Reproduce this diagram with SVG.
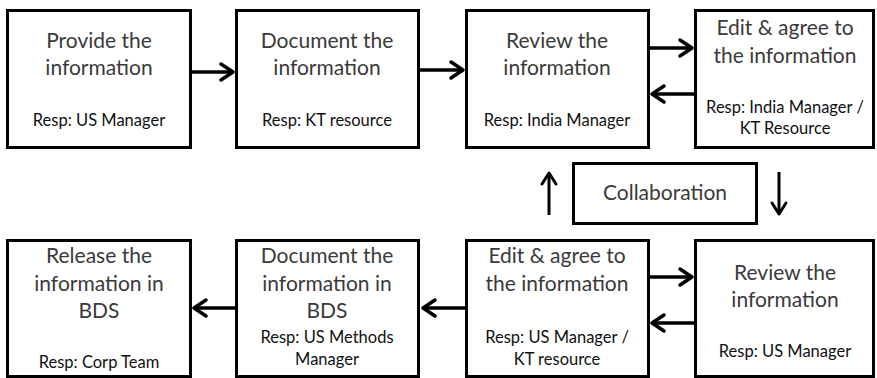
<svg xmlns="http://www.w3.org/2000/svg" width="877" height="378" viewBox="0 0 877 378">
  <defs>
    <style>
      .box { fill: #ffffff; stroke: #000000; stroke-width: 3; }
      .title { font-family: Lato, "Open Sans", "Liberation Sans", sans-serif; font-size: 21px; fill: #3a3a3a; text-anchor: middle; }
      .resp { font-family: Lato, "Open Sans", "Liberation Sans", sans-serif; font-size: 16.5px; fill: #111111; text-anchor: middle; }
      .link { stroke: #000000; stroke-width: 3.5; fill: none; }
      .head { stroke: #000000; stroke-width: 3.5; fill: none; stroke-linecap: round; stroke-linejoin: round; }
      .thin { stroke: #000000; stroke-width: 3; fill: none; }
      .thinhead { stroke: #000000; stroke-width: 3; fill: none; stroke-linecap: round; stroke-linejoin: round; }
    </style>
  </defs>
  <rect width="877" height="378" fill="#ffffff"/>

  <!-- top row -->
  <g id="provide">
    <rect class="box" x="7.5" y="10.5" width="183" height="137"/>
    <text class="title" x="99" y="48">Provide the</text>
    <text class="title" x="99" y="75">information</text>
    <text class="resp" x="99" y="126">Resp: US Manager</text>
  </g>
  <g id="document-kt">
    <rect class="box" x="236.5" y="10.5" width="182" height="137"/>
    <text class="title" x="327" y="48">Document the</text>
    <text class="title" x="327" y="75">information</text>
    <text class="resp" x="327" y="126">Resp:  KT resource</text>
  </g>
  <g id="review-india">
    <rect class="box" x="466.5" y="10.5" width="182" height="137"/>
    <text class="title" x="557" y="48">Review the</text>
    <text class="title" x="557" y="75">information</text>
    <text class="resp" x="557" y="126">Resp: India Manager</text>
  </g>
  <g id="edit-india">
    <rect class="box" x="695.5" y="10.5" width="178" height="137"/>
    <text class="title" x="785" y="35">Edit &amp; agree to</text>
    <text class="title" x="785" y="63">the information</text>
    <text class="resp" x="785" y="113">Resp: India Manager /</text>
    <text class="resp" x="785" y="134">KT Resource</text>
  </g>

  <!-- middle -->
  <g id="collaboration">
    <rect class="box" x="573.5" y="163.5" width="183" height="60" stroke-width="2.5"/>
    <text class="title" x="665" y="200" font-size="22">Collaboration</text>
  </g>

  <!-- bottom row -->
  <g id="release">
    <rect class="box" x="7.5" y="240.5" width="183" height="136"/>
    <text class="title" x="99" y="263">Release the</text>
    <text class="title" x="99" y="291">information in</text>
    <text class="title" x="99" y="318">BDS</text>
    <text class="resp" x="99" y="368">Resp: Corp Team</text>
  </g>
  <g id="document-bds">
    <rect class="box" x="236.5" y="240.5" width="182" height="136"/>
    <text class="title" x="327" y="263">Document the</text>
    <text class="title" x="327" y="291">information in</text>
    <text class="title" x="327" y="318">BDS</text>
    <text class="resp" x="327" y="343">Resp: US Methods</text>
    <text class="resp" x="327" y="365">Manager</text>
  </g>
  <g id="edit-us">
    <rect class="box" x="466.5" y="240.5" width="182" height="136"/>
    <text class="title" x="557" y="263">Edit &amp; agree to</text>
    <text class="title" x="557" y="291">the information</text>
    <text class="resp" x="557" y="343">Resp: US Manager /</text>
    <text class="resp" x="557" y="365">KT resource</text>
  </g>
  <g id="review-us">
    <rect class="box" x="695.5" y="240.5" width="178" height="136"/>
    <text class="title" x="785" y="280">Review the</text>
    <text class="title" x="785" y="307">information</text>
    <text class="resp" x="785" y="357">Resp: US Manager</text>
  </g>

  <!-- connectors -->
  <g id="connectors">
    <!-- provide -> document -->
    <line class="link" x1="191" y1="72" x2="233" y2="72"/>
    <polyline class="head" points="221,64 233,72 221,80"/>
    <!-- document -> review -->
    <line class="link" x1="419" y1="70" x2="463" y2="70"/>
    <polyline class="head" points="451,62 463,70 451,78"/>
    <!-- review <-> edit (top) -->
    <line class="link" x1="649" y1="48" x2="692" y2="48"/>
    <polyline class="head" points="680,40 692,48 680,56"/>
    <line class="link" x1="695" y1="94" x2="652" y2="94"/>
    <polyline class="head" points="664,86 652,94 664,102"/>
    <!-- collaboration arrows -->
    <line class="thin" x1="549" y1="215" x2="549" y2="174"/>
    <polyline class="thinhead" points="542,184 549,173 556,184"/>
    <line class="thin" x1="779" y1="172" x2="779" y2="213"/>
    <polyline class="thinhead" points="772,203 779,214 786,203"/>
    <!-- edit <-> review (bottom) -->
    <line class="link" x1="649" y1="277" x2="692" y2="277"/>
    <polyline class="head" points="680,269 692,277 680,285"/>
    <line class="link" x1="695" y1="323" x2="652" y2="323"/>
    <polyline class="head" points="664,315 652,323 664,331"/>
    <!-- edit -> document -->
    <line class="link" x1="466" y1="308" x2="423" y2="308"/>
    <polyline class="head" points="435,300 423,308 435,316"/>
    <!-- document -> release -->
    <line class="link" x1="236" y1="308" x2="194" y2="308"/>
    <polyline class="head" points="206,300 194,308 206,316"/>
  </g>
</svg>
